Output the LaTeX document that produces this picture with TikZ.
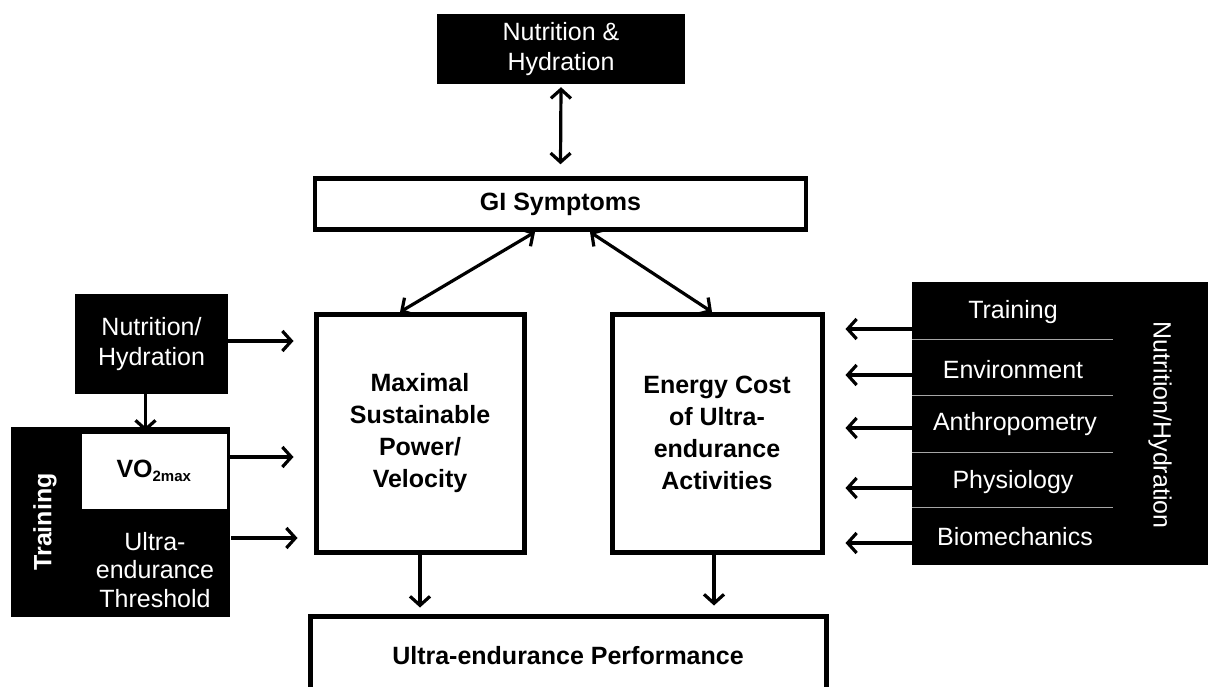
\documentclass[tikz,border=0pt]{standalone}
\usepackage{fontspec}
\setmainfont{Liberation Sans}
\usetikzlibrary{arrows.meta}
\begin{document}
\begin{tikzpicture}[x=1pt,y=-1pt,
  every node/.style={font=\fontsize{25}{30}\selectfont, align=center, inner sep=0pt},
  blk/.style={fill=black, text=white},
  wbox/.style={draw=black, line width=5pt, fill=white, font=\fontsize{25}{32}\selectfont\bfseries},
  arr/.style={line width=3.2pt, -{Straight Barb[length=9pt,width=20pt]}},
  darr/.style={line width=3.2pt, {Straight Barb[length=9pt,width=20pt]}-{Straight Barb[length=9pt,width=20pt]}},
  sep/.style={draw=gray!70, line width=0.8pt}]
\useasboundingbox (0,0) rectangle (1208,687);
\fill[white] (0,0) rectangle (1208,687);

% top
\node[blk, minimum width=248pt, minimum height=70pt] (nh) at (561,49) {Nutrition \&\\Hydration};
\node[wbox, line width=4.5pt, minimum width=491pt, minimum height=51pt] (gi) at (560.5,204) {GI Symptoms};
\node[wbox, minimum width=208pt, minimum height=238pt] (msp) at (420,433) {Maximal\\Sustainable\\Power/\\Velocity};
\node[wbox, minimum width=210pt, minimum height=238pt] (ec) at (717,433) {Energy Cost\\of Ultra-\\endurance\\Activities};
\node[wbox, minimum width=516pt, minimum height=79pt] (perf) at (568,655.5) {Ultra-endurance Performance};

\draw[darr] ([yshift=-3pt]nh.south) -- ([yshift=12pt]gi.north);
\coordinate (gl) at (535,232);
\coordinate (gr) at (590,232);
\coordinate (ml) at (400,312);
\coordinate (mr) at (712,312);
\draw[darr] (gl) -- (ml);
\draw[darr] (gr) -- (mr);
\draw[arr] (msp.south) -- ([yshift=6pt]msp.south |- perf.north);
\draw[arr] ([xshift=-3pt]ec.south) -- ([xshift=-3pt,yshift=8pt]ec.south |- perf.north);

% left
\node[blk, minimum width=153pt, minimum height=100pt] (lnh) at (151.5,344) {Nutrition/\\Hydration};
\fill[black] (11,427) rectangle (230,617);
\node[blk, font=\fontsize{25}{30}\selectfont\bfseries, rotate=90] (trn) at (45,522) {Training};
\node[draw=black, line width=3pt, fill=white, minimum width=148pt, minimum height=78pt, font=\fontsize{25}{30}\selectfont\bfseries] (vo2) at (154,471) {VO\textsubscript{\fontsize{15}{15}\selectfont 2max}};
\node[text=white, font=\fontsize{25}{28.5}\selectfont] (uet) at (155,570) {Ultra-\\endurance\\Threshold};
\coordinate (uetE) at (231,538);

\draw[arr] ([yshift=3pt]lnh.east) -- ([xshift=-20pt,yshift=3pt]lnh.east -| msp.west);
\draw[arr] ([yshift=14pt]vo2.east) -- ([xshift=-20pt,yshift=14pt]vo2.east -| msp.west);
\draw[arr] (uetE) -- ([xshift=-16pt]uetE -| msp.west);
\draw[arr] ([xshift=-6pt]lnh.south) -- ([xshift=-6pt,yshift=-1pt]lnh.south |- vo2.north);

% right
\fill[black] (912,282) rectangle (1208,565);
\draw[sep] (912,339) -- (1113,339);
\draw[sep] (912,395) -- (1113,395);
\draw[sep] (912,452) -- (1113,452);
\draw[sep] (912,507) -- (1113,507);
\node[text=white] (rt) at (1013,312) {Training};
\node[text=white] (re) at (1013,370) {Environment};
\node[text=white] (ra) at (1015,424) {Anthropometry};
\node[text=white] (rp) at (1013,482) {Physiology};
\node[text=white] (rb) at (1015,537) {Biomechanics};
\node[text=white, rotate=-90] (rnh) at (1160,425) {Nutrition/Hydration};

\coordinate (e1) at (912,329);
\coordinate (e2) at (912,375);
\coordinate (e3) at (912,428);
\coordinate (e4) at (912,488);
\coordinate (e5) at (912,543);
\foreach \i in {1,...,5}{
  \draw[arr] (e\i) -- ([xshift=21pt]e\i -| ec.east);
}
\end{tikzpicture}
\end{document}
